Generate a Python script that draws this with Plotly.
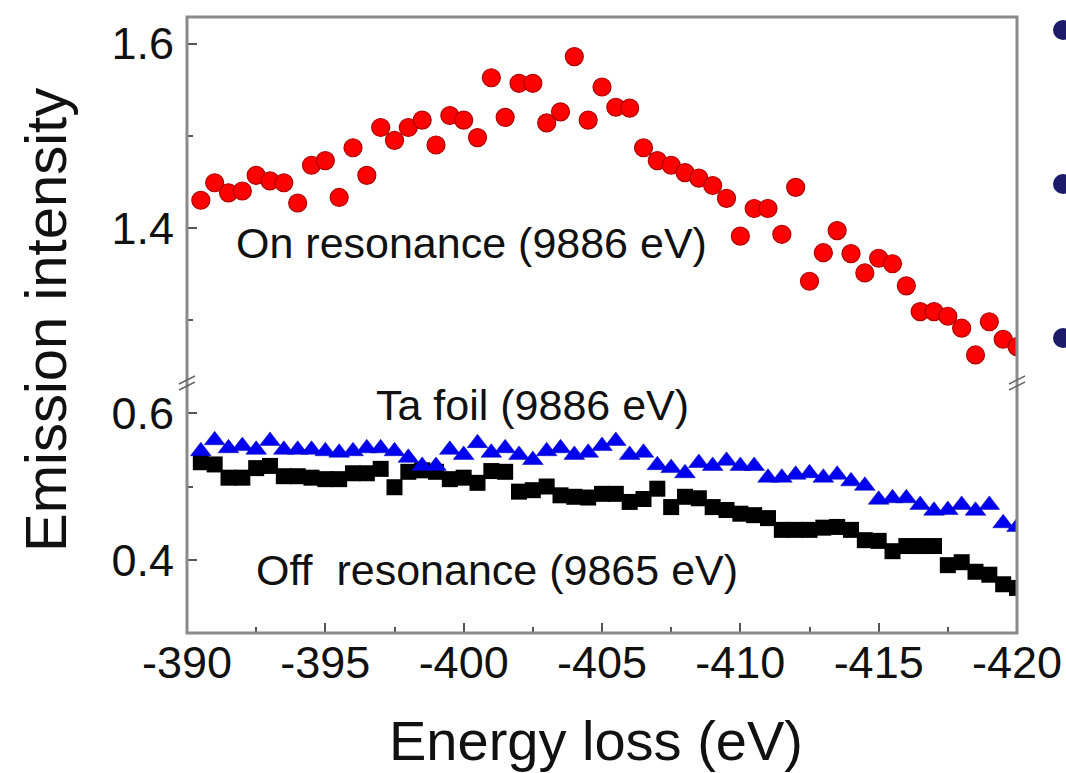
import plotly.graph_objects as go

# ---- data ----
energy = [-390.5, -391.0, -391.5, -392.0, -392.5, -393.0, -393.5, -394.0, -394.5, -395.0,
          -395.5, -396.0, -396.5, -397.0, -397.5, -398.0, -398.5, -399.0, -399.5, -400.0,
          -400.5, -401.0, -401.5, -402.0, -402.5, -403.0, -403.5, -404.0, -404.5, -405.0,
          -405.5, -406.0, -406.5, -407.0, -407.5, -408.0, -408.5, -409.0, -409.5, -410.0,
          -410.5, -411.0, -411.5, -412.0, -412.5, -413.0, -413.5, -414.0, -414.5, -415.0,
          -415.5, -416.0, -416.5, -417.0, -417.5, -418.0, -418.5, -419.0, -419.5, -420.0]

on_resonance = [1.430, 1.449, 1.438, 1.440, 1.457, 1.451, 1.449, 1.427, 1.468, 1.473,
                1.433, 1.487, 1.457, 1.509, 1.495, 1.509, 1.517, 1.490, 1.522, 1.517,
                1.498, 1.563, 1.520, 1.557, 1.557, 1.514, 1.526, 1.586, 1.517, 1.553,
                1.531, 1.530, 1.487, 1.473, 1.468, 1.460, 1.454, 1.446, 1.432, 1.391,
                1.421, 1.421, 1.393, 1.444, 1.342, 1.373, 1.397, 1.372, 1.351, 1.367,
                1.361, 1.337, 1.309, 1.309, 1.304, 1.291, 1.262, 1.298, 1.279, 1.271]

ta_foil = [0.548, 0.563, 0.552, 0.555, 0.550, 0.562, 0.550, 0.550, 0.550, 0.548,
           0.546, 0.548, 0.552, 0.552, 0.548, 0.539, 0.528, 0.528, 0.550, 0.543,
           0.559, 0.546, 0.552, 0.543, 0.536, 0.548, 0.552, 0.543, 0.546, 0.555,
           0.562, 0.543, 0.546, 0.529, 0.525, 0.518, 0.532, 0.528, 0.535, 0.528,
           0.528, 0.512, 0.512, 0.516, 0.518, 0.512, 0.516, 0.507, 0.501, 0.482,
           0.484, 0.484, 0.475, 0.467, 0.468, 0.475, 0.467, 0.475, 0.450, 0.445]

off_resonance = [0.533, 0.530, 0.512, 0.512, 0.525, 0.528, 0.514, 0.514, 0.512, 0.510,
                 0.510, 0.518, 0.518, 0.524, 0.499, 0.520, 0.522, 0.520, 0.510, 0.512,
                 0.505, 0.521, 0.520, 0.493, 0.495, 0.500, 0.488, 0.486, 0.485, 0.490,
                 0.490, 0.479, 0.483, 0.497, 0.472, 0.486, 0.484, 0.472, 0.468, 0.463,
                 0.461, 0.457, 0.441, 0.441, 0.441, 0.444, 0.445, 0.441, 0.427, 0.426,
                 0.412, 0.419, 0.419, 0.419, 0.393, 0.397, 0.384, 0.380, 0.367, 0.362]

x_ticks = [-390, -395, -400, -405, -410, -415, -420]
low_ticks = [0.4, 0.6]
high_ticks = [1.4, 1.6]

labels = {
    "on": "On resonance (9886 eV)",
    "ta": "Ta foil (9886 eV)",
    "off": "Off\u00a0 resonance (9865 eV)",
}

FONT = "Liberation Sans, Arial, Helvetica, sans-serif"
AXIS_GRAY = "#8a8a8a"

fig = go.Figure()

fig.add_trace(go.Scatter(
    x=energy, y=off_resonance, mode="markers", name="Off resonance",
    marker=dict(symbol="square", size=16, color="#000000",
                line=dict(color="#000000", width=0)),
    xaxis="x", yaxis="y"))

fig.add_trace(go.Scatter(
    x=energy, y=ta_foil, mode="markers", name="Ta foil",
    marker=dict(symbol="triangle-up", size=18, color="#0000f0",
                line=dict(color="#0000b0", width=0.5)),
    xaxis="x", yaxis="y"))

fig.add_trace(go.Scatter(
    x=energy, y=on_resonance, mode="markers", name="On resonance",
    marker=dict(symbol="circle", size=18, color="#ff0000",
                line=dict(color="#b00000", width=1.2)),
    xaxis="x", yaxis="y2"))

# layout geometry (page body margin is removed by the post script)
SL, SR, ST, SB = 187, 1017, 17, 633          # plot area in screen pixels
W, H = 1066, 773
L, T, R, B = SL, ST, W - SR, H - SB
PW, PH = SR - SL, SB - ST
BREAK = (SB - 383) / PH


def px_x(px):
    return (px - SL) / PW


def px_y(py):
    return (SB - py) / PH


axis_common = dict(
    showgrid=False, zeroline=False, showline=False, automargin=False,
    ticks="inside", ticklen=10, tickwidth=2, tickcolor="#555555",
    tickfont=dict(family=FONT, size=45, color="#111111"),
)

fig.update_layout(
    width=W, height=H,
    margin=dict(l=L, r=R, t=T, b=B, autoexpand=False),
    paper_bgcolor="white", plot_bgcolor="white",
    showlegend=False,
    xaxis=dict(range=[-390, -420], tickvals=x_ticks,
               ticktext=[str(v) for v in x_ticks],
               minor=dict(dtick=2.5, tick0=-390, ticks="inside", ticklen=6,
                          tickwidth=2, tickcolor="#555555"),
               ticklabelstandoff=-1,
               anchor="y", **axis_common),
    yaxis=dict(domain=[0, BREAK], range=[0.3007, 0.6408], tickvals=low_ticks,
               ticktext=["0.4", "0.6"],
               minor=dict(tickvals=[0.5], ticks="inside", ticklen=6,
                          tickwidth=2, tickcolor="#555555"),
               ticklabelstandoff=12, anchor="x", **axis_common),
    yaxis2=dict(domain=[BREAK, 1], range=[1.2315, 1.629], tickvals=high_ticks,
                ticktext=["1.4", "1.6"],
                minor=dict(tickvals=[1.3, 1.5], ticks="inside", ticklen=6,
                           tickwidth=2, tickcolor="#555555"),
                ticklabelstandoff=12, anchor="x", **axis_common),
)

shapes = []
# plot frame
shapes.append(dict(type="rect", xref="paper", yref="paper", x0=0, x1=1, y0=0, y1=1,
                   line=dict(color=AXIS_GRAY, width=3), layer="above"))
# axis-break marks on both sides
dx = 8 / PW
dy = 4 / PH
for xc in (0, 1):
    for off in (-3 / PH, 3 / PH):
        shapes.append(dict(type="line", xref="paper", yref="paper",
                           x0=xc - dx, x1=xc + dx,
                           y0=BREAK + off - dy, y1=BREAK + off + dy,
                           line=dict(color="#666666", width=1.5), layer="above"))
# slide bullets on the right edge
for cy in (30, 184, 338):
    shapes.append(dict(type="circle", xref="paper", yref="paper",
                       x0=px_x(1053), x1=px_x(1073),
                       y0=px_y(cy + 10), y1=px_y(cy - 10),
                       fillcolor="#1c1c6b", line=dict(width=0)))
fig.update_layout(shapes=shapes)

ann_font = dict(family=FONT, size=43, color="#111111")
annotations = [
    dict(text=labels["on"], x=px_x(471), y=px_y(243)),
    dict(text=labels["ta"], x=px_x(532), y=px_y(405)),
    dict(text=labels["off"], x=px_x(497), y=px_y(570)),
]
for a in annotations:
    a.update(xref="paper", yref="paper", showarrow=False, font=ann_font,
             xanchor="center", yanchor="middle")

# axis titles
annotations.append(dict(text="Energy loss (eV)", xref="paper", yref="paper",
                        x=px_x(596), y=px_y(740), showarrow=False,
                        font=dict(family=FONT, size=56, color="#111111"),
                        xanchor="center", yanchor="middle"))
annotations.append(dict(text="Emission intensity", xref="paper", yref="paper",
                        x=px_x(45), y=px_y(320), showarrow=False, textangle=-90,
                        font=dict(family=FONT, size=58, color="#111111"),
                        xanchor="center", yanchor="middle"))
fig.update_layout(annotations=annotations)

fig.write_html(
    "out.html",
    config={"displayModeBar": False},
    post_script="document.body.style.margin='0';document.body.style.overflow='hidden';",
)
